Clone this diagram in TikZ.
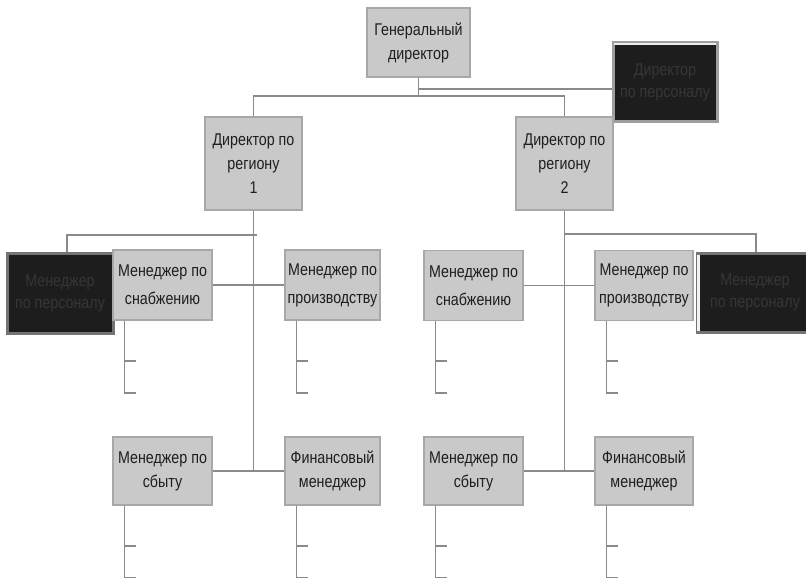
\documentclass[tikz,border=0pt]{standalone}
\usepackage{fontspec}
\setmainfont[FakeStretch=0.84]{Liberation Sans}
\begin{document}
\begin{tikzpicture}[x=1pt,y=-1pt,
  conn/.style={draw=lineg, line width=1.7pt},
  box/.style={draw=boxedge, fill=boxfill, line width=1.3pt, align=center,
    text=textc, inner sep=0pt, font=\fontsize{17}{24}\selectfont},
  darkbox/.style={draw=darkedge, fill=darkfill, line width=3pt, align=center,
    text=darktext, inner sep=0pt, font=\fontsize{17}{22}\selectfont}]
\definecolor{lineg}{HTML}{8A8A8A}
\definecolor{boxfill}{HTML}{C9C9C9}
\definecolor{boxedge}{HTML}{A8A8A8}
\definecolor{textc}{HTML}{1E1E1E}
\definecolor{darkfill}{HTML}{1D1D1D}
\definecolor{darkedge}{HTML}{747474}
\definecolor{darktext}{HTML}{363636}
\useasboundingbox (0,0) rectangle (806,578);
\clip (0,0) rectangle (806,578);

% top level
\node[box, minimum width=103, minimum height=69] (gd) at (418.5,42.5)
  {Генеральный\\директор};
\node[darkbox, draw=darkedge!70!white, minimum width=104, minimum height=78] (dp) at (665,82)
  {Директор\\по персоналу};
\draw[white!85!gray, line width=2pt] ([shift={(2.5,3)}]dp.north west) -- ([shift={(-2.5,3)}]dp.north east);

% regional directors
\node[box, minimum width=97, minimum height=93] (r1) at (253.5,163.5)
  {Директор по\\региону\\1};
\node[box, minimum width=97, minimum height=93] (r2) at (564.5,163.5)
  {Директор по\\региону\\2};

% personnel managers
\node[darkbox, minimum width=106, minimum height=80] (lp) at (60,293)
  {Менеджер\\по персоналу};
\node[darkbox, minimum width=116, minimum height=79] (rp) at (755,292.5)
  {Менеджер\\по персоналу};
\draw[white!90!gray, line width=2.5pt] ([shift={(3,3)}]rp.north west) -- ([shift={(3,-3)}]rp.south west);

% managers, region 1
\node[box, minimum width=99, minimum height=70, font=\fontsize{17}{28}\selectfont] (s1) at (162.5,285)
  {Менеджер по\\снабжению};
\node[box, minimum width=95, minimum height=70, font=\fontsize{17}{28}\selectfont] (p1) at (332.5,285)
  {Менеджер по\\производству};
\node[box, minimum width=99, minimum height=68] (b1) at (162.5,471)
  {Менеджер по\\сбыту};
\node[box, minimum width=95, minimum height=68] (f1) at (332.5,471)
  {Финансовый\\менеджер};

% managers, region 2
\node[box, minimum width=99, minimum height=70, font=\fontsize{17}{28}\selectfont] (s2) at (473.5,285.5)
  {Менеджер по\\снабжению};
\node[box, minimum width=98, minimum height=70, font=\fontsize{17}{28}\selectfont] (p2) at (644,285.5)
  {Менеджер по\\производству};
\node[box, minimum width=99, minimum height=68] (b2) at (473.5,471)
  {Менеджер по\\сбыту};
\node[box, minimum width=98, minimum height=68] (f2) at (644,471)
  {Финансовый\\менеджер};

% connectors from the top
\coordinate (j0) at (418.5,96);
\coordinate (js) at (418.5,89);
\draw[conn] (gd.south) -- (j0);
\draw[conn] (r1.north) |- (j0) -| (r2.north);
\draw[conn] (js) -- (js -| dp.west);

% region 1 trunk
\coordinate (k1) at (257,235);
\draw[conn] (r1.south) -- (r1.south |- b1.east);
\draw[conn] (k1) -| ([xshift=7pt]lp.north);
\draw[conn] (s1.east) -- (p1.west);
\draw[conn] (b1.east) -- (f1.west);

% region 2 trunk
\coordinate (k2) at (564.5,234);
\draw[conn] (r2.south) -- (r2.south |- b2.east);
\draw[conn] (k2) -| ([xshift=1pt]rp.north);
\draw[conn] (s2.east) -- (p2.west);
\draw[conn] (b2.east) -- (f2.west);

% stubs under the managers
\foreach \n in {s1,p1,b1,f1,s2,p2,b2,f2}{
  \draw[conn] ([xshift=12pt]\n.south west) -- ++(0,72) -- ++(12,0);
  \draw[conn] ([shift={(12,40)}]\n.south west) -- ++(12,0);
}
\end{tikzpicture}
\end{document}
